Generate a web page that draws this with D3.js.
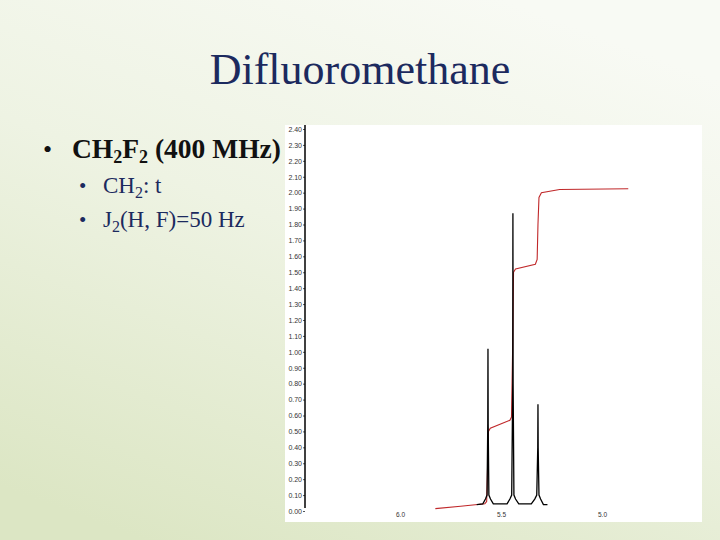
<!DOCTYPE html>
<html>
<head>
<meta charset="utf-8">
<script src="https://cdn.jsdelivr.net/npm/d3@7"></script>
<style>
  html, body { margin: 0; padding: 0; }
  svg { display: block; }
</style>
</head>
<body>
<svg id="chart" width="720" height="540"></svg>
<script>
// ---------- data ----------
const title = "Difluoromethane";
const yTickValues = [0.0,0.1,0.2,0.3,0.4,0.5,0.6,0.7,0.8,0.9,1.0,1.1,1.2,1.3,1.4,1.5,1.6,1.7,1.8,1.9,2.0,2.1,2.2,2.3,2.4];
const xTickValues = [6.0, 5.5, 5.0];
const xTickLabels = ["6.0", "5.5", "5.0"];
// spectrum (ppm, intensity)
const specPpm = [5.62, 5.59, 5.577, 5.569, 5.5655, 5.5645, 5.5635, 5.560, 5.552, 5.538, 5.47, 5.456, 5.447, 5.4420, 5.4410, 5.4400, 5.436, 5.428, 5.412, 5.35, 5.333, 5.323, 5.3180, 5.3170, 5.3160, 5.312, 5.304, 5.29, 5.27];
const specInt = [0.04, 0.045, 0.075, 0.10, 0.55, 1.02, 0.55, 0.10, 0.075, 0.045, 0.045, 0.075, 0.10, 0.80, 1.87, 0.80, 0.10, 0.075, 0.045, 0.045, 0.075, 0.10, 0.40, 0.67, 0.40, 0.10, 0.075, 0.04, 0.04];
// integral curve (ppm, value)
const intPpm = [5.825, 5.70, 5.58, 5.571, 5.566, 5.562, 5.553, 5.456, 5.448, 5.442, 5.438, 5.428, 5.330, 5.321, 5.317, 5.312, 5.300, 5.210, 4.870];
const intVal = [0.015, 0.03, 0.045, 0.06, 0.30, 0.50, 0.52, 0.57, 0.59, 1.05, 1.50, 1.52, 1.55, 1.58, 1.80, 1.97, 2.00, 2.02, 2.025];

// ---------- drawing ----------
const svg = d3.select("#chart");
const defs = svg.append("defs");
const grad = defs.append("linearGradient").attr("id", "bg")
  .attr("x1", "0.7").attr("y1", "0").attr("x2", "0.2").attr("y2", "1");
grad.append("stop").attr("offset", "0").attr("stop-color", "#f8faf4");
grad.append("stop").attr("offset", "0.45").attr("stop-color", "#eef3e3");
grad.append("stop").attr("offset", "1").attr("stop-color", "#dce6c4");
svg.append("rect").attr("width", 720).attr("height", 540).attr("fill", "url(#bg)");

const serif = "'Liberation Serif', 'Times New Roman', serif";

// title
svg.append("text").attr("x", 360).attr("y", 84).attr("text-anchor", "middle")
  .attr("font-family", serif)
  .attr("font-size", 44).attr("fill", "#1c2a5e").text(title);

// bullets
svg.append("text").attr("x", 43).attr("y", 158).attr("font-family", serif)
  .attr("font-size", 26).attr("fill", "#111").text("•");
const t1 = svg.append("text").attr("x", 72).attr("y", 158).attr("font-family", serif)
  .attr("font-size", 27.5).attr("font-weight", "bold").attr("fill", "#111");
t1.append("tspan").text("CH");
t1.append("tspan").attr("dy", 5).attr("font-size", 18).text("2");
t1.append("tspan").attr("dy", -5).text("F");
t1.append("tspan").attr("dy", 5).attr("font-size", 18).text("2");
t1.append("tspan").attr("dy", -5).text(" (400 MHz)");

svg.append("text").attr("x", 79).attr("y", 193).attr("font-family", serif)
  .attr("font-size", 21).attr("fill", "#1c2a5e").text("•");
const t2 = svg.append("text").attr("x", 103).attr("y", 193).attr("font-family", serif)
  .attr("font-size", 23).attr("fill", "#1c2a5e");
t2.append("tspan").text("CH");
t2.append("tspan").attr("dy", 5).attr("font-size", 16).text("2");
t2.append("tspan").attr("dy", -5).text(": t");

svg.append("text").attr("x", 79).attr("y", 227).attr("font-family", serif)
  .attr("font-size", 21).attr("fill", "#1c2a5e").text("•");
const t3 = svg.append("text").attr("x", 103).attr("y", 227).attr("font-family", serif)
  .attr("font-size", 23).attr("fill", "#1c2a5e");
t3.append("tspan").text("J");
t3.append("tspan").attr("dy", 5).attr("font-size", 16).text("2");
t3.append("tspan").attr("dy", -5).text("(H, F)=50 Hz");

// plot panel
svg.append("rect").attr("x", 285).attr("y", 125).attr("width", 417).attr("height", 397).attr("fill", "#ffffff");

const x = d3.scaleLinear().domain([6.0, 5.0]).range([400, 602]);
const y = d3.scaleLinear().domain([0, 2.4]).range([511, 129]);

// y axis
const yAxis = d3.axisLeft(y).tickValues(yTickValues).tickFormat(d3.format(".2f")).tickSize(2).tickPadding(1);
const gy = svg.append("g").attr("transform", "translate(305,0)").call(yAxis);
gy.select(".domain").remove();
gy.selectAll("text").attr("font-family", "'Liberation Sans', Arial, sans-serif").attr("font-size", 7).attr("fill", "#333");
gy.selectAll("line").attr("stroke", "#555");
svg.append("line").attr("x1", 305).attr("x2", 305).attr("y1", 125).attr("y2", 508)
  .attr("stroke", "#000").attr("stroke-width", 1.5);

// x axis labels
const xAxis = d3.axisBottom(x).tickValues(xTickValues).tickFormat((d, i) => xTickLabels[i]).tickSize(0).tickPadding(0);
const gx = svg.append("g").attr("transform", "translate(0,512)").call(xAxis);
gx.select(".domain").remove();
gx.selectAll("text").attr("font-family", "'Liberation Sans', Arial, sans-serif").attr("font-size", 6.5).attr("fill", "#333");

// integral
const intData = intPpm.map((p, i) => [p, intVal[i]]);
svg.append("path").datum(intData)
  .attr("d", d3.line().x(d => x(d[0])).y(d => y(d[1])))
  .attr("fill", "none").attr("stroke", "#c0282a").attr("stroke-width", 1.1);

// spectrum
const specData = specPpm.map((p, i) => [p, specInt[i]]);
svg.append("path").datum(specData)
  .attr("d", d3.line().x(d => x(d[0])).y(d => y(d[1])))
  .attr("fill", "none").attr("stroke", "#000").attr("stroke-width", 1.3).attr("stroke-linejoin", "miter");
</script>
</body>
</html>
